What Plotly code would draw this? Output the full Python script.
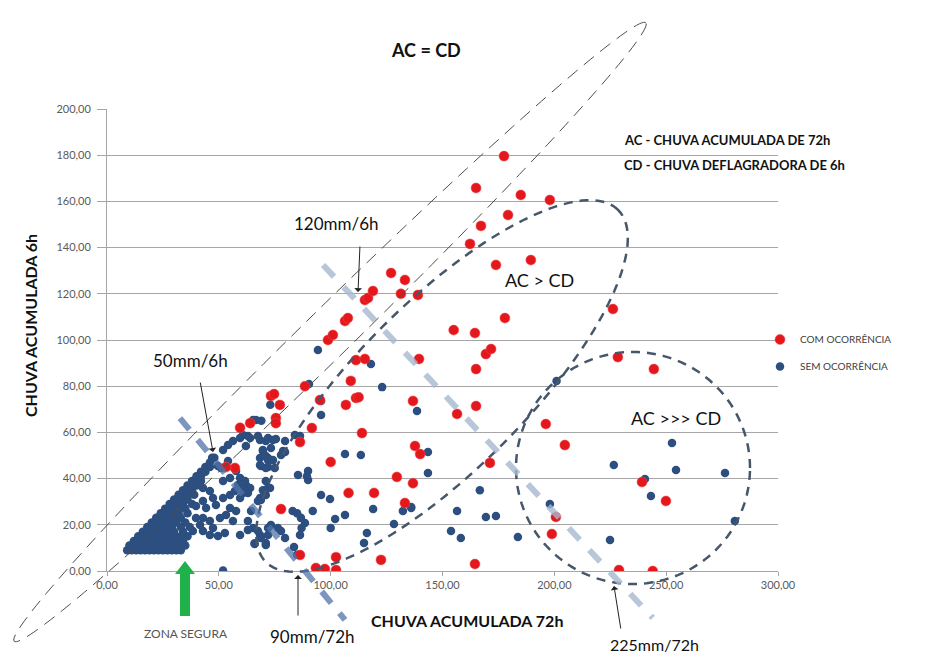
import numpy as np
import plotly.graph_objects as go

# ---------------- DATA ----------------
# COM OCORRÊNCIA (red)
com_x = [177.5, 165, 185, 198, 179.3, 167.2, 162.3, 173.9, 189.5, 177.9,
         127, 133.2, 115.3, 116.7, 118.9, 131.4, 139, 106.4, 107.7, 98.8, 101,
         155, 164.5, 169.4, 171.7, 139.5, 165, 111.3, 115.3, 109, 88.5,
         73.3, 74.7, 77.3, 75.5, 75.5, 64, 59.5, 95.2, 106.8, 111.3, 112.5,
         91.6, 86.3, 114, 100, 108, 119.4, 77.8, 86.3, 93.4, 97.4, 102.4, 102.4,
         122.5, 129.6, 136.8, 133.2, 136.8, 156.5, 165, 196.2, 204.7, 137.7, 140,
         171.2, 200.7, 198.9, 164.5, 226.2, 228.4, 244.5, 239.2, 249.9, 228.9, 244,
         57.2, 53.2]
com_y = [179.6, 165.8, 162.8, 160.6, 154.1, 149.4, 141.6, 132.5, 134.6, 109.5,
         129, 126, 117.3, 118.2, 121.2, 120, 119.5, 108.2, 109.5, 100, 102.2,
         104.3, 103, 93.9, 96.1, 91.8, 87.4, 91.3, 91.8, 82.3, 80,
         75.8, 76.6, 71.9, 66.2, 64, 64, 62, 74, 71.9, 74.9, 75.2,
         61.9, 55.8, 59.7, 47.2, 33.8, 33.8, 26.8, 6.9, 1.3, 0.9, 6, 0.4,
         4.8, 40.7, 38, 29.4, 73.6, 68, 71.4, 63.6, 54.5, 54.1, 50.6,
         46.8, 23.4, 16, 3, 113.4, 92.6, 87.4, 38.5, 30.3, 0.4, 0,
         44.6, 45]

# SEM OCORRÊNCIA (blue) - dense cluster read row by row, then scattered points
sem_x = [9, 11, 13, 15, 17, 19, 21, 23, 25, 27, 29, 31, 33,
         10, 12, 14, 16, 18, 20, 22, 24, 26, 28, 30, 32, 35,
         12, 14, 16, 18, 20, 22, 24, 26, 28, 31, 34,
         14, 16, 18, 20, 22, 25, 27, 30, 33, 36,
         16, 18, 20, 22, 24, 27, 30, 34,
         18, 20, 22, 24, 26, 29, 33, 37,
         20, 22, 24, 26, 28, 31, 35,
         22, 24, 26, 28, 30, 33,
         24, 26, 28, 30, 32, 36,
         26, 28, 30, 32, 35,
         28, 30, 32, 34, 38,
         30, 32, 34, 36,
         32, 34, 36, 39,
         34, 36, 38,
         36, 38, 40,
         38, 40, 42,
         40, 42,
         42, 44,
         44, 46,
         46,
         47, 48,
         38.4, 42.9, 46, 49.6, 52.7, 59.5, 63, 66, 71,
         42.9, 46, 47.4, 42.9, 39.8, 44.3, 48.7, 51.9, 55, 57.2, 59.5, 60.8, 58.6, 62.1,
         55, 57.7, 53.2, 50.5, 46, 42.9, 39.8, 47.4, 41.6, 56.3,
         51.9, 54.1, 56.3, 59.5, 60.8, 64, 62.1, 49.6, 51, 54.1, 57.7, 59.5, 61.7, 64,
         60.8, 55, 51.9,
         68.4, 71, 69.7, 68.4, 68.8, 71, 72, 72.9, 71, 68.4, 73.3, 68.4, 72,
         66.6, 65.3, 69, 73, 63, 67.5, 72, 75.5, 69.7, 71, 72, 68.4, 72, 75,
         78.7, 77.8, 74.2, 73.3, 74.2,
         71, 72, 69.7, 68.8, 67.5, 63, 64.4, 63, 65.3, 67.5, 68.8, 66, 71, 72, 76.4,
         77.8, 79.6,
         79.6, 84, 86.3, 85.4, 89.9, 89.9, 89.4, 95.7, 99.7, 92, 102, 106.4, 100,
         119, 132.3, 136, 128.3, 116.2, 114.9, 83, 85, 86.7, 88.5, 87, 86.3, 83.6, 85,
         94.3, 118, 123, 90.3, 95.7, 95.7, 106.4, 113.5, 79.6,
         51.9,
         138.6, 143.5, 143.5, 136, 166.7, 156.5, 169.4, 173.9, 153.8, 158.2, 183.7,
         201, 198,
         252.6, 226.6, 254.4, 276.3, 240.5, 243.2, 280.7, 224.9]
sem_y = [9, 9, 9, 9, 9, 9, 9, 9, 9, 9, 9, 9, 9,
         11, 11, 11, 11, 11, 11, 11, 11, 11, 11, 11, 11, 11,
         13, 13, 13, 13, 13, 13, 13, 13, 13, 13, 13,
         15, 15, 15, 15, 15, 15, 15, 15, 15, 15,
         17, 17, 17, 17, 17, 17, 17, 17,
         19, 19, 19, 19, 19, 19, 19, 19,
         21, 21, 21, 21, 21, 21, 21,
         23, 23, 23, 23, 23, 23,
         25, 25, 25, 25, 25, 25,
         27, 27, 27, 27, 27,
         29, 29, 29, 29, 29,
         31, 31, 31, 31,
         33, 33, 33, 33,
         35, 35, 35,
         37, 37, 37,
         39, 39, 39,
         41, 41,
         43, 43,
         45, 45,
         47,
         49, 49,
         17.3, 17.3, 15.6, 15.2, 16.5, 15.6, 17.8, 12, 11.3,
         35.9, 34.6, 31.6, 30.3, 28.1, 27.3, 28.6, 31.6, 32.9, 34.6, 31.6, 35.9, 37.2, 37.2,
         27.3, 26, 24.2, 22.9, 21.6, 22.9, 22.9, 18.6, 19.9, 21.6,
         52.4, 54.5, 56.3, 57.6, 58.9, 57.6, 54.1, 45.5, 44.6, 47.6, 43.3, 40.3, 39, 35.9,
         33.8, 40.3, 39,
         56.7, 56.3, 52.4, 48.9, 45.5, 44.6, 48.9, 35.9, 32.9, 31.6, 19.9, 15.6, 15.6,
         65.4, 65.4, 65, 72, 58.4, 58.4, 57.6, 57.1, 51.9, 49.8, 48, 45.9, 45, 44.6,
         51.9, 50.2, 56.7, 53.2, 48,
         39, 36, 35, 30.7, 30.3, 33.8, 26, 21.6, 18.6, 17.3, 14.3, 11.7, 12.1, 18.6, 18.6,
         17.3, 14.3,
         56.3, 58.9, 58.4, 41.6, 43.3, 39.4, 41, 32.9, 31.2, 26, 22.5, 24.2, 18.6,
         26.8, 26, 27.7, 20.3, 16.5, 12.1, 26, 25, 23, 20.8, 18.6, 15.6, 10.4, 7,
         95.7, 89.6, 79.6, 81, 67.5, 73.6, 50.6, 50.2, 51.5,
         0.2,
         69.3, 51.5, 42.4, 27.3, 35, 26, 23.4, 23.8, 17.3, 14.3, 14.7,
         82.3, 29,
         55.4, 45.9, 43.7, 42.4, 39.8, 32.5, 21.6, 13.4]

x_ticks = [0, 50, 100, 150, 200, 250, 300]
y_ticks = [0, 20, 40, 60, 80, 100, 120, 140, 160, 180, 200]

# ---------------- LAYOUT GEOMETRY ----------------
FW, FH = 927, 653
L, R, T, B = 99, 770, 101, 563          # plot area in pixels
XMAX, YMAX = 300, 200
FONT = "Lato, 'Open Sans', Arial, sans-serif"


def d2p(x, y):
    """data -> pixel"""
    return L + x / XMAX * (R - L), B - y / YMAX * (B - T)


def p2paper(px, py):
    return (px - L) / (R - L), (B - py) / (B - T)


def ellipse_path(cx, cy, a, b, ang, n=160):
    t = np.linspace(0, 2 * np.pi, n, endpoint=False)
    th = np.radians(ang)
    xs = cx + a * np.cos(t) * np.cos(th) - b * np.sin(t) * np.sin(th)
    ys = cy - (a * np.cos(t) * np.sin(th) + b * np.sin(t) * np.cos(th))
    pts = [p2paper(x, y) for x, y in zip(xs, ys)]
    return "M " + " L ".join(f"{x:.5f},{y:.5f}" for x, y in pts) + " Z"


def line_path(p0, p1):
    a = p2paper(*d2p(*p0))
    b = p2paper(*d2p(*p1))
    return f"M {a[0]:.5f},{a[1]:.5f} L {b[0]:.5f},{b[1]:.5f}"


fig = go.Figure()
fig.add_trace(go.Scatter(
    x=sem_x, y=sem_y, mode="markers", name="SEM OCORRÊNCIA",
    marker=dict(size=8.5, color="#2c4f80"), legendrank=2, legendgroup="b"))
fig.add_trace(go.Scatter(
    x=com_x, y=com_y, mode="markers", name="COM OCORRÊNCIA",
    marker=dict(size=10, color="#e3171c", line=dict(width=1, color="rgba(240,80,80,0.5)")),
    legendrank=1, legendgroup="a"))

shapes = []
# AC = CD long thin ellipse
shapes.append(dict(type="path", xref="paper", yref="paper", layer="above",
                   path=ellipse_path(322, 324, 442, 24, 44.4),
                   line=dict(color="#4d4d4d", width=1, dash="13px,8px")))
# AC > CD ellipse
shapes.append(dict(type="path", xref="paper", yref="paper", layer="above",
                   path=ellipse_path(434, 378, 249, 84, 45),
                   line=dict(color="#46566b", width=2.5, dash="9px,7px")))
# AC >>> CD circle
shapes.append(dict(type="path", xref="paper", yref="paper", layer="above",
                   path=ellipse_path(625, 460, 117, 116, 0),
                   line=dict(color="#46566b", width=2.5, dash="9px,7px")))
# 50mm/6h - 90mm/72h guide line
shapes.append(dict(type="path", xref="paper", yref="paper", layer="above",
                   path=line_path((32.6, 66.2), (106.4, -21.2)),
                   line=dict(color="rgba(80,115,170,0.75)", width=6, dash="15px,13px")))
# 120mm/6h - 225mm/72h guide line
shapes.append(dict(type="path", xref="paper", yref="paper", layer="above",
                   path=line_path((96.6, 132.5), (244, -20.3)),
                   line=dict(color="rgba(165,185,208,0.8)", width=6, dash="16px,14px")))
# green arrow (ZONA SEGURA)
gpts = [(172, 608), (172, 566), (167, 566), (177, 553), (187, 566), (182, 566), (182, 608)]
gp = [p2paper(*p) for p in gpts]
shapes.append(dict(type="path", xref="paper", yref="paper", layer="above",
                   path="M " + " L ".join(f"{x:.5f},{y:.5f}" for x, y in gp) + " Z",
                   fillcolor="#1fb24a", line=dict(width=0)))

annotations = []


def text(px, py, s, size, bold=False, color="#111111", xanchor="center", angle=0):
    x, y = p2paper(px, py)
    annotations.append(dict(x=x, y=y, xref="paper", yref="paper", showarrow=False,
                            text=f"<b>{s}</b>" if bold else s, textangle=angle,
                            xanchor=xanchor, yanchor="middle",
                            font=dict(size=size, color=color, family=FONT)))


def arrow(tail, head):
    x, y = p2paper(*head)
    annotations.append(dict(x=x, y=y, xref="paper", yref="paper", text="",
                            showarrow=True, ax=tail[0] - head[0], ay=tail[1] - head[1],
                            arrowhead=1, arrowsize=1.3, arrowwidth=1, arrowcolor="#222222"))


text(418, 42, "AC = CD", 18, bold=True)
text(614, 132, "AC - CHUVA ACUMULADA DE 72h", 13, bold=True, xanchor="left")
text(614, 157, "CD - CHUVA DEFLAGRADORA DE 6h", 13, bold=True, xanchor="left")
text(328, 215, "120mm/6h", 17)
text(531, 272, "AC &gt; CD", 18)
text(182, 352, "50mm/6h", 17)
text(668, 410, "AC &gt;&gt;&gt; CD", 18)
text(178, 625, "ZONA SEGURA", 12, color="#555555")
text(304, 628, "90mm/72h", 17)
text(459, 612, "CHUVA ACUMULADA 72h", 16, bold=True)
text(646, 636, "225mm/72h", 16)
text(22, 318, "CHUVA ACUMULADA 6h", 16, bold=True, angle=-90)

arrow((352, 237), (350, 284))
arrow((192, 373), (205, 444))
arrow((290, 609), (290, 567))
arrow((613, 622), (606, 578))

fig.update_layout(
    width=FW, height=FH,
    margin=dict(l=L, r=FW - R, t=T, b=FH - B, autoexpand=False),
    paper_bgcolor="white", plot_bgcolor="white",
    separators=",.",
    font=dict(family=FONT, color="#595959", size=11),
    shapes=shapes, annotations=annotations,
    showlegend=True,
    legend=dict(x=(752 - L) / (R - L), y=(B - 317) / (B - T), xanchor="left", yanchor="top",
                font=dict(size=10, color="#404040", family=FONT),
                bgcolor="rgba(0,0,0,0)", tracegroupgap=8, itemsizing="trace"),
    xaxis=dict(range=[0, XMAX], tickvals=x_ticks, tickformat=".2f", showgrid=False,
               showline=True, linecolor="#a6a6a6", linewidth=1, zeroline=False,
               ticks="outside", ticklen=4, tickcolor="#a6a6a6",
               tickfont=dict(size=11, color="#595959")),
    yaxis=dict(range=[0, YMAX], tickvals=y_ticks, tickformat=".2f", showgrid=True,
               gridcolor="#a6a6a6", gridwidth=1,
               showline=True, linecolor="#a6a6a6", linewidth=1, zeroline=False,
               ticks="outside", ticklen=9, tickcolor="#a6a6a6", ticklabelstandoff=4,
               tickfont=dict(size=11, color="#595959")),
)

fig.write_html("out.html")
